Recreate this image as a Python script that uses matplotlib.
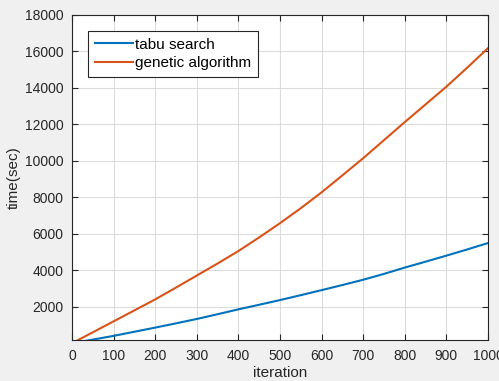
import numpy as np
import matplotlib
matplotlib.use("Agg")
import matplotlib.pyplot as plt

plt.rcParams['font.family'] = ['Liberation Sans', 'DejaVu Sans']

# iteration grid and time values
iteration = [0, 50, 100, 150, 200, 250, 300, 350, 400, 450, 500,
             550, 600, 650, 700, 750, 800, 850, 900, 950, 1000]
tabu_time = [0, 200, 403, 630, 856, 1090, 1330, 1590, 1858, 2110, 2365,
             2635, 2910, 3190, 3480, 3800, 4147, 4470, 4800, 5140, 5490]
ga_time   = [0, 600, 1200, 1800, 2403, 3050, 3710, 4370, 5052, 5800, 6580,
             7400, 8270, 9200, 10140, 11130, 12120, 13090, 14060, 15100, 16170]
x_ticks = list(range(0, 1001, 100))
y_ticks = list(range(2000, 18001, 2000))

mblue   = '#0072BD'
morange = '#D95319'
axcol   = '#262626'

fig = plt.figure(figsize=(4.99, 3.81), dpi=100, facecolor='#F0F0F0')
ax = fig.add_axes([0.1443, 0.1063, 0.8337, 0.855])

ax.plot(iteration, tabu_time, color=mblue, lw=1.5, label='tabu search')
ax.plot(iteration, ga_time, color=morange, lw=1.5, label='genetic algorithm')

ax.set_xlim(0, 1000)
ax.set_ylim(150, 18000)
ax.set_xticks(x_ticks)
ax.set_yticks(y_ticks)
ax.grid(True, color='#DCDCDC', lw=0.8)
ax.set_axisbelow(True)
ax.tick_params(direction='in', top=True, right=True, labelsize=10,
               colors=axcol, length=4, pad=6)
for s in ax.spines.values():
    s.set_color(axcol)
    s.set_linewidth(0.8)

ax.set_xlabel('iteration', fontsize=11, color=axcol, labelpad=2)
ax.set_ylabel('time(sec)', fontsize=11, color=axcol, labelpad=3)

leg = ax.legend(loc='upper left', bbox_to_anchor=(0.038, 0.951),
                borderaxespad=0, fontsize=11, frameon=True, fancybox=False,
                handlelength=2.5, handletextpad=0.15, borderpad=0.45,
                labelspacing=0.3)
leg.get_frame().set_edgecolor(axcol)
leg.get_frame().set_linewidth(0.8)
leg.get_frame().set_alpha(1)

fig.savefig('out.png', dpi=100, facecolor=fig.get_facecolor())
